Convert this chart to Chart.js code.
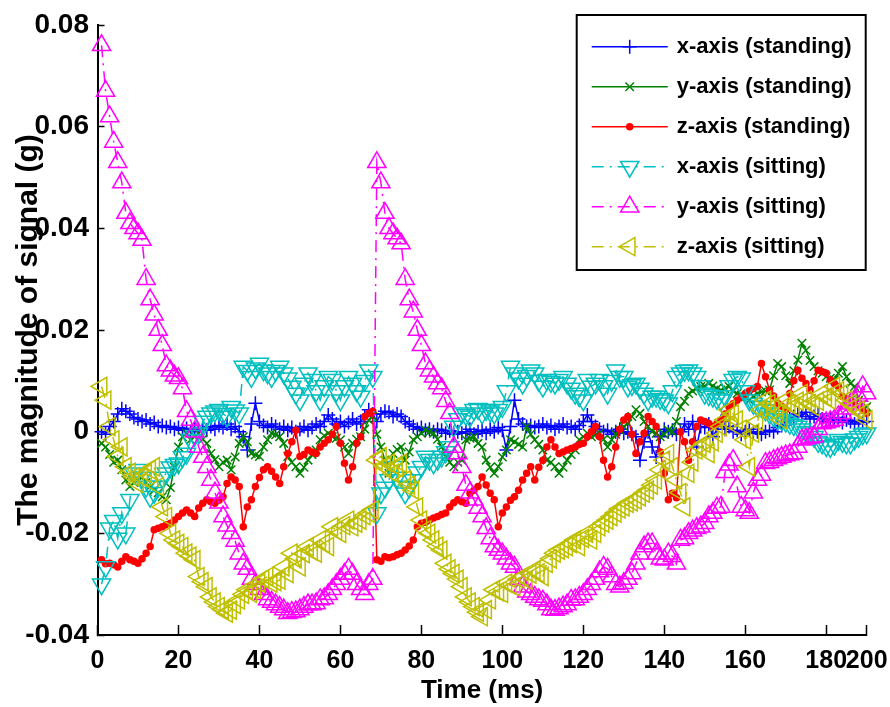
<!DOCTYPE html>
<html>
<head>
<meta charset="utf-8">
<script src="https://cdn.jsdelivr.net/npm/chart.js"></script>
<style>
html,body{margin:0;padding:0;background:#fff;}
#wrap{width:890px;height:707px;position:relative;}
</style>
</head>
<body>
<div id="wrap"><canvas id="c" width="890" height="707"></canvas></div>
<script>
// ---------- DATA ----------
const timeMs = [1,2,3,4,5,6,7,8,9,10,11,12,13,14,15,16,17,18,19,20,21,22,23,24,25,26,27,28,29,30,31,32,33,34,35,36,37,38,39,40,41,42,43,44,45,46,47,48,49,50,51,52,53,54,55,56,57,58,59,60,61,62,63,64,65,66,67,68,69,70,71,72,73,74,75,76,77,78,79,80,81,82,83,84,85,86,87,88,89,90,91,92,93,94,95,96,97,98,99,100,101,102,103,104,105,106,107,108,109,110,111,112,113,114,115,116,117,118,119,120,121,122,123,124,125,126,127,128,129,130,131,132,133,134,135,136,137,138,139,140,141,142,143,144,145,146,147,148,149,150,151,152,153,154,155,156,157,158,159,160,161,162,163,164,165,166,167,168,169,170,171,172,173,174,175,176,177,178,179,180,181,182,183,184,185,186,187,188,189,190];

const xStanding = [
0.0,-0.0005,0.001,0.002,0.0035,0.0045,0.004,0.0035,0.0028,0.0025,
0.002,0.0023,0.0015,0.0018,0.001,0.0012,0.0008,0.001,0.0005,0.0008,
0.0003,0.0006,0.0,0.0005,0.0002,0.0008,0.0003,0.001,0.0005,0.0012,
0.0008,0.0015,0.0005,0.001,0.0,-0.001,-0.0036,0.0015,0.0056,0.002,
0.0012,0.0008,0.0015,0.001,0.0005,0.001,0.0003,0.0008,0.0,0.0005,
0.001,0.0003,0.0008,0.0015,0.001,0.002,0.0033,0.0025,0.0015,0.002,
0.001,0.0018,0.0025,0.0015,0.002,0.003,0.0043,0.0035,0.002,0.0035,
0.004,0.0038,0.003,0.0035,0.003,0.002,0.0015,0.001,0.0005,0.0008,
0.0003,0.0005,0.0,0.0005,0.0003,-0.0003,0.0002,-0.0005,0.0,-0.0003,
0.0,0.0005,-0.0005,0.0,0.0003,-0.0003,0.0005,0.0,0.0008,0.0003,
-0.0036,0.001,0.0062,0.0025,0.0015,0.001,0.0012,0.0008,0.001,0.0015,
0.0008,0.0012,0.0005,0.001,0.0015,0.0008,0.001,0.0005,0.0012,0.002,
0.0033,0.002,0.001,0.0005,0.0,0.0003,-0.0005,0.0,0.0005,-0.0003,
0.0,-0.0005,-0.001,-0.0056,-0.002,0.0,-0.003,-0.005,-0.001,0.0005,
0.0,0.0003,-0.0005,0.0,0.0015,0.0005,0.002,-0.003,0.001,0.0008,
0.0015,-0.001,0.0005,0.002,0.0005,0.001,0.0,0.0003,-0.0005,0.0,
0.0005,-0.0003,0.0,-0.0005,0.0,0.0003,0.0,0.0008,0.0012,0.002,
0.0025,0.003,0.0035,0.003,0.0038,0.0025,0.003,0.0035,0.0025,0.002,
0.0025,0.002,0.0028,0.0018,0.0023,0.002,0.0015,0.0022,0.0018,0.002];

const yStanding = [
-0.0023,-0.003,-0.0045,-0.006,-0.0056,-0.0075,-0.0095,-0.0108,-0.010,-0.0095,
-0.009,-0.010,-0.0108,-0.0115,-0.012,-0.0128,-0.0134,-0.011,-0.007,-0.003,
-0.001,-0.0003,-0.0016,-0.001,-0.0003,-0.0015,-0.0023,-0.0043,-0.0055,-0.0069,
-0.006,-0.0056,-0.0075,-0.005,-0.0023,-0.001,-0.002,-0.0043,-0.0046,-0.0049,
-0.003,-0.0016,-0.0003,-0.0006,-0.001,-0.0023,-0.0049,-0.006,-0.0069,-0.0082,
-0.007,-0.0056,-0.0045,-0.0036,-0.0016,-0.0008,-0.0003,-0.001,-0.0013,-0.0016,
-0.003,-0.0043,-0.0023,-0.0015,-0.001,0.0005,0.0023,0.003,-0.0005,-0.003,
-0.0056,-0.0082,-0.0043,-0.0035,-0.003,-0.0056,-0.004,-0.0016,-0.001,-0.0003,
0.0003,0.0,-0.0003,-0.0015,-0.003,-0.0049,-0.006,-0.0069,-0.006,-0.0056,
-0.0016,-0.0013,-0.001,-0.0023,-0.003,-0.0056,-0.007,-0.0082,-0.0069,-0.005,
-0.0036,-0.0016,-0.002,-0.0025,-0.003,0.001,-0.0005,-0.0016,-0.0025,-0.0036,
-0.0056,-0.006,-0.0069,-0.0082,-0.007,-0.0056,-0.0045,-0.0036,-0.0016,-0.001,
-0.0003,-0.001,-0.0006,-0.0003,-0.0015,-0.003,-0.0016,-0.0005,0.0003,0.001,
0.0016,0.003,0.0043,0.0036,0.002,0.001,0.0,-0.0003,-0.001,-0.0005,
0.0003,0.0,0.002,0.0049,0.006,0.0075,0.008,0.0085,0.0089,0.009,
0.0095,0.009,0.0085,0.0082,0.0085,0.0089,0.008,0.0075,0.0072,0.0068,
0.0062,0.007,0.0075,0.0078,0.008,0.0082,0.011,0.0134,0.0128,0.011,
0.0095,0.012,0.0141,0.0174,0.016,0.014,0.0128,0.012,0.0115,0.0108,
0.0105,0.0102,0.0115,0.0128,0.0108,0.0095,0.0089,0.0062,0.0055,0.0049];

const zStanding = [
-0.0252,-0.026,-0.0259,-0.0262,-0.0266,-0.0255,-0.0246,-0.0252,-0.0255,-0.0259,
-0.025,-0.0239,-0.0226,-0.0193,-0.019,-0.0187,-0.0183,-0.018,-0.0174,-0.0167,
-0.016,-0.0154,-0.016,-0.0167,-0.015,-0.0141,-0.0134,-0.0138,-0.0141,-0.0135,
-0.0128,-0.0102,-0.0089,-0.0095,-0.0108,-0.0187,-0.0148,-0.0134,-0.0108,-0.009,
-0.0075,-0.0069,-0.0078,-0.0089,-0.0102,-0.0069,-0.0043,-0.002,0.0003,-0.0049,
-0.0045,-0.0036,-0.004,-0.0043,-0.003,-0.0023,-0.0016,-0.0005,0.001,-0.0023,
-0.0062,-0.0095,-0.0069,-0.0023,-0.001,0.003,0.0036,0.004,-0.0252,-0.0255,
-0.0246,-0.0248,-0.0246,-0.0242,-0.0239,-0.0233,-0.0225,-0.0213,-0.0187,-0.018,
-0.0178,-0.0174,-0.017,-0.0167,-0.0163,-0.016,-0.0148,-0.014,-0.0134,-0.0138,
-0.0141,-0.0121,-0.0115,-0.0108,-0.0089,-0.0105,-0.0121,-0.0134,-0.0187,-0.016,
-0.0148,-0.0135,-0.0128,-0.0115,-0.0095,-0.0082,-0.0069,-0.0095,-0.007,-0.0056,
-0.003,-0.0016,-0.003,-0.0043,-0.004,-0.0036,-0.0033,-0.003,-0.0025,-0.0023,
-0.001,0.0,0.001,-0.001,-0.0056,-0.0089,-0.0069,-0.003,0.0005,0.0023,
0.003,-0.0005,-0.0043,-0.002,-0.0003,0.003,0.002,0.001,-0.004,-0.0082,
-0.0134,-0.0121,-0.013,0.0,-0.002,-0.0056,-0.002,0.001,0.0023,0.002,
0.0016,0.001,0.0015,0.0023,0.0035,0.0049,0.0055,0.0062,0.0068,0.0075,
0.008,0.0085,0.0089,0.0134,0.0108,0.0082,0.007,0.0056,0.005,0.0043,
0.0075,0.010,0.0121,0.0105,0.0095,0.0082,0.010,0.0121,0.0118,0.0115,
0.0102,0.0095,0.0089,0.0069,0.0065,0.0062,0.0055,0.0049,0.0042,0.0036];

const xSitting = [
-0.030,-0.0266,-0.019,-0.0175,-0.021,-0.016,-0.020,-0.0134,-0.0082,-0.0075,
-0.009,-0.0108,-0.0128,-0.012,-0.0108,-0.009,-0.0082,-0.007,-0.0065,-0.0062,
-0.005,-0.0043,-0.0016,-0.0008,-0.0003,0.002,0.003,0.0036,0.004,0.0043,
0.0035,0.003,0.0049,0.0042,0.0036,0.0128,0.012,0.0108,0.0125,0.0134,
0.0121,0.0115,0.0108,0.012,0.0128,0.0115,0.0105,0.0089,0.0075,0.0062,
0.0095,0.0115,0.0102,0.008,0.0062,0.009,0.0108,0.0102,0.008,0.0062,
0.009,0.0108,0.0095,0.008,0.0069,0.010,0.0121,0.0108,-0.016,-0.0121,
-0.011,-0.0095,-0.0069,-0.009,-0.0108,-0.0121,-0.011,-0.0095,-0.008,-0.0069,
-0.0049,-0.0055,-0.0062,-0.0055,-0.0049,-0.004,-0.003,0.001,0.0025,0.0036,
0.0033,0.003,0.0043,0.0045,0.0036,0.0043,0.004,0.0036,0.0043,0.0049,
0.008,0.0128,0.0115,0.0105,0.0095,0.011,0.0121,0.0115,0.010,0.0089,
0.0102,0.0098,0.0095,0.0102,0.0108,0.0095,0.0085,0.0075,0.007,0.0062,
0.0102,0.0089,0.0095,0.0102,0.009,0.0075,0.010,0.0121,0.0108,0.0108,
0.0089,0.0092,0.0095,0.0085,0.0075,0.0062,0.0069,0.0069,0.0065,0.0062,
0.0056,0.008,0.0108,0.0115,0.012,0.0121,0.0115,0.0108,0.009,0.0075,
0.0072,0.0069,0.0065,0.0062,0.007,0.009,0.0102,0.0108,0.0105,0.008,
0.0062,0.0055,0.005,0.0049,0.0042,0.0036,0.003,0.0025,0.0023,0.002,
0.0016,0.0013,0.001,0.0005,0.0,-0.0003,-0.001,-0.002,-0.0023,-0.0028,
-0.003,-0.0025,-0.0016,-0.002,-0.0023,-0.0023,-0.0015,-0.001,-0.0005,-0.0003];

const ySitting = [
0.076,0.067,0.062,0.057,0.053,0.049,0.043,0.041,0.040,0.039,
0.0377,0.030,0.026,0.023,0.020,0.017,0.013,0.012,0.011,0.0105,
0.0085,0.004,0.0023,0.0,-0.003,-0.005,-0.007,-0.0095,-0.012,-0.014,
-0.0167,-0.0185,-0.020,-0.0215,-0.024,-0.026,-0.027,-0.029,-0.030,-0.031,
-0.032,-0.033,-0.0335,-0.034,-0.0345,-0.035,-0.0357,-0.0355,-0.0354,-0.035,
-0.0345,-0.034,-0.034,-0.0338,-0.033,-0.0328,-0.032,-0.031,-0.030,-0.029,
-0.028,-0.027,-0.028,-0.030,-0.031,-0.032,-0.030,-0.029,0.053,0.049,
0.043,0.040,0.039,0.038,0.037,0.030,0.026,0.0236,0.020,0.017,
0.0134,0.012,0.0108,0.0095,0.0085,0.006,0.0036,-0.003,-0.0043,-0.007,
-0.0105,-0.012,-0.0134,-0.015,-0.0167,-0.019,-0.021,-0.0226,-0.0233,-0.024,
-0.025,-0.026,-0.0266,-0.029,-0.0305,-0.0315,-0.032,-0.0325,-0.033,-0.0333,
-0.034,-0.035,-0.0351,-0.0348,-0.0344,-0.034,-0.0331,-0.033,-0.0325,-0.032,
-0.031,-0.030,-0.029,-0.0275,-0.0266,-0.027,-0.0285,-0.030,-0.0305,-0.0298,
-0.029,-0.0279,-0.026,-0.024,-0.0226,-0.022,-0.022,-0.024,-0.025,-0.0252,
-0.024,-0.0245,-0.026,-0.0213,-0.021,-0.020,-0.0195,-0.019,-0.0187,-0.018,
-0.0167,-0.016,-0.015,-0.0148,-0.008,-0.0065,-0.0056,-0.0108,-0.0148,-0.0155,
-0.016,-0.012,-0.0095,-0.0085,-0.0062,-0.006,-0.0056,-0.0053,-0.005,-0.0047,
-0.0045,-0.0043,-0.003,-0.0016,-0.0014,-0.0012,-0.001,0.0005,0.0016,0.0018,
0.002,0.0023,0.003,0.0036,0.0045,0.0055,0.0062,0.007,0.0089,0.0075];

const zSitting = [
0.0089,0.0062,0.001,-0.0016,-0.0049,-0.003,-0.0069,-0.008,-0.0089,-0.0102,
-0.009,-0.0082,-0.0075,-0.0069,-0.0108,-0.0148,-0.0167,-0.020,-0.0213,-0.022,
-0.0226,-0.0239,-0.0245,-0.0252,-0.0285,-0.0295,-0.0305,-0.0325,-0.0335,-0.0344,
-0.035,-0.0357,-0.0351,-0.034,-0.0331,-0.032,-0.0311,-0.0318,-0.031,-0.0298,
-0.029,-0.0285,-0.0298,-0.0295,-0.0292,-0.0266,-0.0279,-0.0239,-0.025,-0.0266,
-0.024,-0.0226,-0.0235,-0.0239,-0.0213,-0.022,-0.0226,-0.0187,-0.0195,-0.020,
-0.0185,-0.0174,-0.0187,-0.018,-0.0174,-0.0165,-0.016,-0.0154,-0.0056,-0.0049,
-0.0069,-0.0062,-0.0082,-0.007,-0.0062,-0.0095,-0.0105,-0.0115,-0.0148,-0.0174,
-0.0193,-0.020,-0.0213,-0.0225,-0.0233,-0.0259,-0.027,-0.0279,-0.029,-0.0305,
-0.0325,-0.0335,-0.0344,-0.0355,-0.0364,-0.035,-0.0331,-0.0311,-0.0315,-0.0318,
-0.0298,-0.0302,-0.0305,-0.029,-0.0285,-0.0292,-0.028,-0.0272,-0.0278,-0.0285,
-0.0259,-0.025,-0.0239,-0.0233,-0.023,-0.0226,-0.022,-0.0213,-0.0226,-0.021,
-0.020,-0.0213,-0.020,-0.0187,-0.018,-0.0174,-0.0167,-0.016,-0.0152,-0.0148,
-0.0141,-0.0138,-0.0134,-0.0128,-0.0121,-0.0115,-0.0105,-0.0095,-0.0075,-0.0056,
-0.0043,-0.0069,-0.0095,-0.012,-0.0148,-0.0082,-0.006,-0.0036,-0.003,-0.0023,
-0.0043,-0.002,-0.0003,0.001,0.0023,0.0043,0.0035,0.0023,0.0005,-0.0016,
-0.0069,-0.0003,0.002,0.0043,0.0062,0.0055,0.0049,0.0035,0.0023,0.0062,
0.0055,0.0049,0.006,0.0075,0.0062,0.0055,0.0049,0.006,0.0075,0.0068,
0.0062,0.0089,0.008,0.0075,0.0062,0.0055,0.0049,0.0042,0.0036,0.0023];

const seriesLabels = ['x-axis (standing)','y-axis (standing)','z-axis (standing)','x-axis (sitting)','y-axis (sitting)','z-axis (sitting)'];
const xTickValues = [0,20,40,60,80,100,120,140,160,180,190];
const xTickLabels = ['0','20','40','60','80','100','120','140','160','180','200'];
const yTickValues = [-0.04,-0.02,0,0.02,0.04,0.06,0.08];
const yTickLabels = ['-0.04','-0.02','0','0.02','0.04','0.06','0.08'];

// ---------- STYLE ----------
const FONT = "'Liberation Sans', Arial, sans-serif";
const HOLLOW = 'rgba(0,0,0,0)';
const DASHDOT = [12,6,2,6];
const styles = [
  {color:'#0000FF', fill:HOLLOW,   point:'cross',    rot:0,   r:7,    dash:[]},
  {color:'#008000', fill:HOLLOW,   point:'crossRot', rot:0,   r:6,    dash:[]},
  {color:'#FF0000', fill:'#FF0000',point:'circle',   rot:0,   r:3,    dash:[]},
  {color:'#00BFBF', fill:HOLLOW,   point:'triangle', rot:180, r:10.5, dash:DASHDOT},
  {color:'#FF00FF', fill:HOLLOW,   point:'triangle', rot:0,   r:10.5, dash:DASHDOT},
  {color:'#BFBF00', fill:HOLLOW,   point:'triangle', rot:-90, r:10.5, dash:DASHDOT}
];
const seriesData = [xStanding, yStanding, zStanding, xSitting, ySitting, zSitting];

const datasets = seriesData.map((d, i) => {
  const s = styles[i];
  return {
    label: seriesLabels[i],
    data: d,
    borderColor: s.color,
    backgroundColor: s.fill,
    borderWidth: 1.5,
    borderDash: s.dash,
    pointStyle: s.point,
    pointRotation: s.rot,
    pointRadius: s.r,
    pointHoverRadius: s.r,
    pointBorderWidth: 1.5,
    pointBorderColor: s.color,
    pointBackgroundColor: s.fill,
    fill: false,
    tension: 0,
    clip: false,
    order: seriesData.length - i
  };
});

// MATLAB-like boxed legend inside the axes
const legendPlugin = {
  id: 'matlabLegend',
  afterDatasetsDraw(chart) {
    const {ctx, chartArea} = chart;
    const w = 289, h = 255;
    const left = chartArea.right - 290, top = chartArea.top - 10;
    ctx.save();
    ctx.fillStyle = '#fff';
    ctx.fillRect(left, top, w, h);
    ctx.setLineDash([]);
    ctx.lineWidth = 2;
    ctx.strokeStyle = '#000';
    ctx.strokeRect(left, top, w, h);
    chart.data.datasets.forEach((ds, i) => {
      const y = top + 31.7 + i * 40;
      ctx.setLineDash(ds.borderDash || []);
      ctx.lineWidth = ds.borderWidth;
      ctx.strokeStyle = ds.borderColor;
      ctx.beginPath();
      ctx.moveTo(left + 15, y);
      ctx.lineTo(left + 91, y);
      ctx.stroke();
      ctx.setLineDash([]);
      ctx.lineWidth = ds.pointBorderWidth;
      ctx.strokeStyle = ds.pointBorderColor;
      ctx.fillStyle = ds.pointBackgroundColor;
      Chart.helpers.drawPoint(ctx, {pointStyle: ds.pointStyle, rotation: ds.pointRotation, radius: ds.pointRadius, borderWidth: ds.pointBorderWidth}, left + 53, y);
      ctx.fillStyle = '#000';
      ctx.font = 'bold 22px ' + FONT;
      ctx.textBaseline = 'middle';
      ctx.textAlign = 'left';
      ctx.fillText(ds.label, left + 100, y);
    });
    ctx.restore();
  }
};

Chart.defaults.color = '#000';
new Chart(document.getElementById('c'), {
  type: 'line',
  data: { labels: timeMs, datasets: datasets },
  plugins: [legendPlugin],
  options: {
    responsive: false,
    animation: false,
    events: [],
    layout: { padding: { left: 0, right: 23.3, top: 25, bottom: 0 } },
    plugins: { legend: { display: false }, tooltip: { enabled: false } },
    scales: {
      x: {
        type: 'linear', min: 0, max: 190,
        afterBuildTicks: (axis) => { axis.ticks = xTickValues.map(v => ({ value: v })); },
        afterFit: (axis) => { axis.height = 72; axis.paddingLeft = 0; axis.paddingRight = 0; },
        ticks: {
          autoSkip: false, maxRotation: 0, minRotation: 0, padding: 21, color: '#000',
          font: { family: FONT, size: 25, weight: 'bold' },
          callback: (v) => xTickLabels[xTickValues.indexOf(v)]
        },
        grid: { drawOnChartArea: false, drawTicks: true, tickLength: -10, tickColor: '#000', tickWidth: 1.5, color: '#000' },
        border: { display: true, color: '#000', width: 2 },
        title: { display: true, text: 'Time (ms)', color: '#000', font: { family: FONT, size: 26, weight: 'bold' }, padding: { top: 0, bottom: 1 } }
      },
      y: {
        type: 'linear', min: -0.04, max: 0.08,
        afterBuildTicks: (axis) => { axis.ticks = yTickValues.map(v => ({ value: v })); },
        afterFit: (axis) => { axis.width = 97.5; axis.paddingTop = 0; axis.paddingBottom = 0; },
        ticks: {
          autoSkip: false, padding: 15.5, color: '#000',
          font: { family: FONT, size: 28, weight: 'bold' },
          callback: (v) => yTickLabels[yTickValues.findIndex(t => Math.abs(t - v) < 1e-9)]
        },
        grid: { drawOnChartArea: false, drawTicks: true, tickLength: -7, tickColor: '#000', tickWidth: 1.5, color: '#000' },
        border: { display: true, color: '#000', width: 2 },
        title: { display: true, text: 'The magnitude of signal (g)', color: '#000', font: { family: FONT, size: 30, weight: 'bold' }, padding: { top: 11, bottom: 0 } }
      }
    }
  }
});
</script>
</body>
</html>
